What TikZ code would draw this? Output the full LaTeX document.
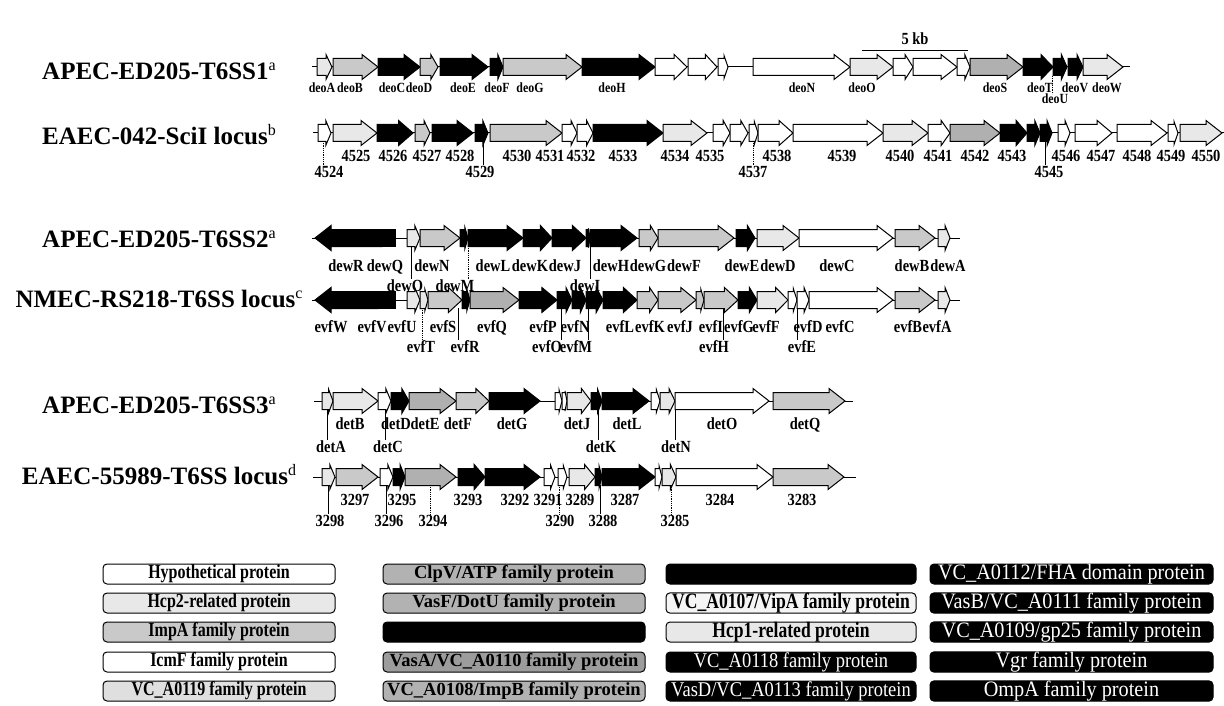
\documentclass[tikz,border=0pt]{standalone}
\usepackage{fontspec}
\setmainfont{Liberation Serif}
\newfontfamily\cfam{Liberation Serif}[FakeStretch=0.85]
\newfontfamily\lfam{Liberation Serif}[FakeStretch=0.8]
\newfontfamily\wfam{Liberation Serif}[FakeStretch=0.88]
\newfontfamily\vfam{Liberation Serif}[FakeStretch=0.92]
\newcommand\sups[1]{\raisebox{9pt}{\mdseries\fontsize{16}{16}\selectfont #1}}
\newcommand\gfw[4]{%
 \pgfmathsetmacro\ghl{min(16,0.4*(#2-#1))}%
 \pgfmathsetmacro\ghh{min(12.5,8.5+0.3*(#2-#1))}%
 \path[#4] (#1,#3-8.5) -- ({#2-\ghl},#3-8.5) -- ({#2-\ghl},#3-\ghh) -- (#2,#3) -- ({#2-\ghl},#3+\ghh) -- ({#2-\ghl},#3+8.5) -- (#1,#3+8.5) -- cycle;}
\newcommand\gbw[4]{%
 \pgfmathsetmacro\ghl{min(16,0.4*(#2-#1))}%
 \pgfmathsetmacro\ghh{min(12.5,8.5+0.3*(#2-#1))}%
 \path[#4] (#2,#3-8.5) -- ({#1+\ghl},#3-8.5) -- ({#1+\ghl},#3-\ghh) -- (#1,#3) -- ({#1+\ghl},#3+\ghh) -- ({#1+\ghl},#3+8.5) -- (#2,#3+8.5) -- cycle;}
\newcommand\gbox[4]{\path[#4] (#1,#3-8.5) rectangle (#2,#3+8.5);}
\newcommand\lab[4]{\node[#1] (t-#4) at (#2,#3) {#4};}
\tikzset{
 gW/.style={draw=black,line width=1pt,fill=white},
 gL/.style={draw=black,line width=1pt,fill=gray!18},
 gM/.style={draw=black,line width=1pt,fill=gray!42},
 gD/.style={draw=black,line width=1pt,fill=gray!62},
 gB/.style={draw=black,line width=1pt,fill=black},
 bb/.style={line width=1pt},
 ga/.style={inner sep=0pt,anchor=base,font=\cfam\bfseries\fontsize{14}{14}\selectfont},
 gc/.style={inner sep=0pt,anchor=base,font=\cfam\bfseries\fontsize{17}{17}\selectfont},
 tk/.style={line width=0.8pt},
 tkd/.style={line width=0.8pt,densely dotted},
 rowt/.style={inner sep=0pt,anchor=base,font=\bfseries\fontsize{25}{25}\selectfont},
 lgb/.style={draw=black,line width=1pt,rounded corners=4pt,minimum height=20pt,inner sep=0pt},
 lt1/.style={font=\lfam\bfseries\fontsize{20}{20}\selectfont},
 lt2/.style={font=\bfseries\fontsize{18.5}{18.5}\selectfont},
 lt3/.style={font=\lfam\bfseries\fontsize{22}{22}\selectfont},
 ltw/.style={font=\wfam\fontsize{21}{21}\selectfont,text=white},
 ltv/.style={font=\vfam\fontsize{22}{22}\selectfont,text=white},
}
\begin{document}
\begin{tikzpicture}[x=1pt,y=-1pt]
\useasboundingbox (0,0) rectangle (1224,706);
% row titles
\node[rowt] (r1) at (159,79.5) {APEC-ED205-T6SS1\sups{a}};
\node[rowt] (r2) at (159,144.5) {EAEC-042-SciI locus\sups{b}};
\node[rowt] (r3) at (159,247.5) {APEC-ED205-T6SS2\sups{a}};
\node[rowt] (r4) at (159,307.5) {NMEC-RS218-T6SS locus\sups{c}};
\node[rowt] (r5) at (159,413.5) {APEC-ED205-T6SS3\sups{a}};
\node[rowt] (r6) at (159,484.5) {EAEC-55989-T6SS locus\sups{d}};
% scale bar
\coordinate (sb1) at (862,51);
\coordinate (sb2) at (968,51);
\draw[line width=1pt] (sb1) -- (sb2);
\node[gc] (kb) at (915,45) {5 kb};
% ---------- row 1
\draw[bb] (312,67) -- (1130,67);
\gfw{317}{332}{67}{gL}
\gfw{333}{378}{67}{gM}
\gfw{378}{420}{67}{gB}
\gfw{420}{438}{67}{gM}
\gfw{440}{488}{67}{gB}
\gfw{490}{503}{67}{gB}
\gfw{503}{582}{67}{gM}
\gfw{582}{655}{67}{gB}
\gfw{655}{687}{67}{gW}
\gfw{688}{717}{67}{gW}
\gfw{718}{728}{67}{gW}
\gfw{753}{850}{67}{gW}
\gfw{850}{893}{67}{gL}
\gfw{893}{913}{67}{gW}
\gfw{913}{957}{67}{gW}
\gfw{957}{970}{67}{gW}
\gfw{970}{1023}{67}{gD}
\gfw{1023}{1053}{67}{gB}
\gfw{1053}{1067}{67}{gB}
\gfw{1068}{1083}{67}{gB}
\gfw{1083}{1123}{67}{gL}
\lab{ga}{322}{93}{deoA}
\lab{ga}{350}{93}{deoB}
\lab{ga}{392}{93}{deoC}
\lab{ga}{419}{93}{deoD}
\lab{ga}{463}{93}{deoE}
\lab{ga}{497}{93}{deoF}
\lab{ga}{530}{93}{deoG}
\lab{ga}{612}{93}{deoH}
\lab{ga}{802}{93}{deoN}
\lab{ga}{862}{93}{deoO}
\lab{ga}{995}{93}{deoS}
\lab{ga}{1040}{93}{deoT}
\lab{ga}{1075}{93}{deoV}
\lab{ga}{1107}{93}{deoW}
\lab{ga}{1055}{104}{deoU}
\draw[tkd] (1052,76) -- (1052,94);
% ---------- row 2
\draw[bb] (313,133) -- (1224,133);
\gfw{318}{331}{133}{gW}
\gfw{333}{377}{133}{gL}
\gfw{377}{413}{133}{gB}
\gfw{415}{430}{133}{gM}
\gfw{432}{473}{133}{gB}
\gfw{475}{488}{133}{gB}
\gfw{490}{562}{133}{gM}
\gfw{562}{577}{133}{gW}
\gfw{577}{593}{133}{gW}
\gfw{593}{663}{133}{gB}
\gfw{663}{707}{133}{gL}
\gfw{713}{730}{133}{gW}
\gfw{730}{748}{133}{gW}
\gfw{749}{758}{133}{gW}
\gfw{758}{793}{133}{gW}
\gfw{793}{883}{133}{gW}
\gfw{883}{928}{133}{gL}
\gfw{928}{950}{133}{gW}
\gfw{950}{1000}{133}{gD}
\gfw{1000}{1027}{133}{gB}
\gfw{1027}{1040}{133}{gB}
\gfw{1040}{1052}{133}{gB}
\gfw{1058}{1070}{133}{gW}
\gfw{1075}{1112}{133}{gW}
\gfw{1117}{1167}{133}{gW}
\gfw{1168}{1178}{133}{gW}
\gfw{1180}{1222}{133}{gL}
\lab{gc}{356}{162}{4525}
\lab{gc}{393}{162}{4526}
\lab{gc}{427}{162}{4527}
\lab{gc}{460}{162}{4528}
\lab{gc}{517}{162}{4530}
\lab{gc}{550}{162}{4531}
\lab{gc}{581}{162}{4532}
\lab{gc}{623}{162}{4533}
\lab{gc}{675}{162}{4534}
\lab{gc}{710}{162}{4535}
\lab{gc}{777}{162}{4538}
\lab{gc}{842}{162}{4539}
\lab{gc}{900}{162}{4540}
\lab{gc}{938}{162}{4541}
\lab{gc}{975}{162}{4542}
\lab{gc}{1012}{162}{4543}
\lab{gc}{1066}{162}{4546}
\lab{gc}{1101}{162}{4547}
\lab{gc}{1137}{162}{4548}
\lab{gc}{1171}{162}{4549}
\lab{gc}{1206}{162}{4550}
\lab{gc}{329}{178}{4524}
\lab{gc}{480}{178}{4529}
\lab{gc}{753}{178}{4537}
\lab{gc}{1049}{178}{4545}
\draw[tkd] (323,141) -- (323,165);
\draw[tk] (483,141) -- (483,165);
\draw[tkd] (753,141) -- (753,165);
\draw[tk] (1045,141) -- (1045,165);
% ---------- row 3
\draw[bb] (312,238) -- (960,238);
\gbw{315}{382}{238}{gB}
\gbox{382}{395}{238}{gB}
\gfw{407}{420}{238}{gL}
\gfw{420}{460}{238}{gM}
\gfw{460}{468}{238}{gB}
\gfw{468}{523}{238}{gB}
\gfw{523}{552}{238}{gB}
\gfw{552}{586}{238}{gB}
\gfw{586}{590}{238}{gB}
\gfw{590}{637}{238}{gB}
\gfw{639}{658}{238}{gM}
\gfw{658}{734}{238}{gM}
\gfw{736}{755}{238}{gB}
\gfw{757}{799}{238}{gL}
\gfw{799}{893}{238}{gW}
\gfw{895}{935}{238}{gM}
\gfw{938}{950}{238}{gL}
\lab{gc}{346}{271}{dewR}
\lab{gc}{385}{271}{dewQ}
\lab{gc}{432}{271}{dewN}
\lab{gc}{493}{271}{dewL}
\lab{gc}{530}{271}{dewK}
\lab{gc}{565}{271}{dewJ}
\lab{gc}{611}{271}{dewH}
\lab{gc}{648}{271}{dewG}
\lab{gc}{684}{271}{dewF}
\lab{gc}{742}{271}{dewE}
\lab{gc}{778}{271}{dewD}
\lab{gc}{837}{271}{dewC}
\lab{gc}{912}{271}{dewB}
\lab{gc}{948}{271}{dewA}
\lab{gc}{405}{291}{dewO}
\lab{gc}{455}{291}{dewM}
\lab{gc}{585}{291}{dewI}
\draw[tk] (411,246) -- (411,279);
\draw[tkd] (468,246) -- (468,279);
\draw[tk] (590,246) -- (590,279);
% ---------- row 4
\draw[bb] (312,300) -- (960,300);
\gbw{315}{378}{300}{gB}
\gbox{378}{395}{300}{gB}
\gfw{407}{420}{300}{gL}
\gfw{420}{428}{300}{gL}
\gfw{428}{462}{300}{gM}
\gfw{462}{470}{300}{gB}
\gfw{470}{519}{300}{gD}
\gfw{519}{557}{300}{gB}
\gfw{557}{572}{300}{gB}
\gfw{572}{586}{300}{gB}
\gfw{586}{603}{300}{gB}
\gfw{603}{637}{300}{gB}
\gfw{637}{658}{300}{gM}
\gfw{658}{696}{300}{gM}
\gfw{696}{704}{300}{gM}
\gfw{704}{738}{300}{gM}
\gfw{738}{757}{300}{gB}
\gfw{757}{788}{300}{gL}
\gfw{788}{797}{300}{gW}
\gfw{797}{809}{300}{gW}
\gfw{809}{893}{300}{gW}
\gfw{895}{935}{300}{gM}
\gfw{938}{950}{300}{gL}
\lab{gc}{331}{332}{evfW}
\lab{gc}{372}{332}{evfV}
\lab{gc}{402}{332}{evfU}
\lab{gc}{443}{332}{evfS}
\lab{gc}{492}{332}{evfQ}
\lab{gc}{543}{332}{evfP}
\lab{gc}{575}{332}{evfN}
\lab{gc}{620}{332}{evfL}
\lab{gc}{650}{332}{evfK}
\lab{gc}{680}{332}{evfJ}
\lab{gc}{711}{332}{evfI}
\lab{gc}{739}{332}{evfG}
\lab{gc}{766}{332}{evfF}
\lab{gc}{808}{332}{evfD}
\lab{gc}{840}{332}{evfC}
\lab{gc}{908}{332}{evfB}
\lab{gc}{937}{332}{evfA}
\lab{gc}{421}{352}{evfT}
\lab{gc}{465}{352}{evfR}
\lab{gc}{547}{352}{evfO}
\lab{gc}{576}{352}{evfM}
\lab{gc}{714}{352}{evfH}
\lab{gc}{802}{352}{evfE}
\draw[tkd] (422,308) -- (422,340);
\draw[tk] (458,308) -- (458,340);
\draw[tk] (561,308) -- (561,340);
\draw[tk] (588,308) -- (588,340);
\draw[tk] (723,308) -- (723,340);
\draw[tk] (797,308) -- (797,340);
% ---------- row 5
\draw[bb] (314,401) -- (853,401);
\gfw{322}{333}{401}{gL}
\gfw{333}{378}{401}{gL}
\gfw{378}{391}{401}{gW}
\gfw{391}{409}{401}{gB}
\gfw{409}{456}{401}{gD}
\gfw{456}{489}{401}{gM}
\gfw{489}{540}{401}{gB}
\gfw{555}{562}{401}{gW}
\gfw{562}{567}{401}{gW}
\gfw{567}{591}{401}{gL}
\gfw{591}{602}{401}{gB}
\gfw{602}{649}{401}{gB}
\gfw{651}{660}{401}{gW}
\gfw{660}{675}{401}{gL}
\gfw{675}{769}{401}{gW}
\gfw{773}{845}{401}{gM}
\lab{gc}{350}{429}{detB}
\lab{gc}{396}{429}{detD}
\lab{gc}{425}{429}{detE}
\lab{gc}{458}{429}{detF}
\lab{gc}{512}{429}{detG}
\lab{gc}{577}{429}{detJ}
\lab{gc}{627}{429}{detL}
\lab{gc}{722}{429}{detO}
\lab{gc}{805}{429}{detQ}
\lab{gc}{331}{452}{detA}
\lab{gc}{388}{452}{detC}
\lab{gc}{601}{452}{detK}
\lab{gc}{676}{452}{detN}
\draw[tk] (327,409) -- (327,440);
\draw[tk] (385,409) -- (385,440);
\draw[tk] (598,409) -- (598,440);
\draw[tk] (675,409) -- (675,440);
% ---------- row 6
\draw[bb] (313,477) -- (856,477);
\gfw{322}{335}{477}{gL}
\gfw{336}{378}{477}{gM}
\gfw{380}{393}{477}{gW}
\gfw{393}{405}{477}{gB}
\gfw{405}{456}{477}{gD}
\gfw{458}{485}{477}{gB}
\gfw{485}{540}{477}{gB}
\gfw{544}{555}{477}{gW}
\gfw{558}{567}{477}{gW}
\gfw{569}{595}{477}{gL}
\gfw{595}{602}{477}{gB}
\gfw{602}{655}{477}{gB}
\gfw{655}{662}{477}{gW}
\gfw{662}{676}{477}{gL}
\gfw{676}{773}{477}{gW}
\gfw{773}{844}{477}{gM}
\lab{gc}{355}{505}{3297}
\lab{gc}{402}{505}{3295}
\lab{gc}{468}{505}{3293}
\lab{gc}{515}{505}{3292}
\lab{gc}{548}{505}{3291}
\lab{gc}{580}{505}{3289}
\lab{gc}{625}{505}{3287}
\lab{gc}{720}{505}{3284}
\lab{gc}{802}{505}{3283}
\lab{gc}{330}{526}{3298}
\lab{gc}{389}{526}{3296}
\lab{gc}{433}{526}{3294}
\lab{gc}{560}{526}{3290}
\lab{gc}{603}{526}{3288}
\lab{gc}{675}{526}{3285}
\draw[tk] (328,485) -- (328,514);
\draw[tk] (386,485) -- (386,514);
\draw[tkd] (430,485) -- (430,514);
\draw[tkd] (559,485) -- (559,514);
\draw[tk] (600,485) -- (600,514);
\draw[tkd] (671,485) -- (671,514);
% ---------- legend
\node[lgb,lt1,fill=white,minimum width=232pt] (k11) at (219,574) {Hypothetical protein};
\node[lgb,lt1,fill=gray!18,minimum width=232pt] (k12) at (219,603) {Hcp2-related protein};
\node[lgb,lt1,fill=gray!42,minimum width=232pt] (k13) at (219,632) {ImpA family protein};
\node[lgb,lt1,fill=white,minimum width=232pt] (k14) at (219,662) {IcmF family protein};
\node[lgb,lt1,fill=gray!25,minimum width=232pt] (k15) at (219,691) {VC\_A0119 family protein};
\node[lgb,lt2,fill=gray!60,minimum width=262pt] (k21) at (514,574) {ClpV/ATP family protein};
\node[lgb,lt2,fill=gray!60,minimum width=262pt] (k22) at (514,603) {VasF/DotU family protein};
\node[lgb,fill=black,minimum width=262pt] (k23) at (514,632) {};
\node[lgb,lt2,fill=gray!78,minimum width=262pt] (k24) at (514,662) {VasA/VC\_A0110 family protein};
\node[lgb,lt2,fill=gray!60,minimum width=262pt] (k25) at (514,691) {VC\_A0108/ImpB family protein};
\node[lgb,fill=black,minimum width=250pt] (k31) at (791,574) {};
\node[lgb,lt3,fill=gray!8,minimum width=250pt] (k32) at (791,603) {VC\_A0107/VipA family protein};
\node[lgb,lt3,fill=gray!18,minimum width=250pt] (k33) at (791,632) {Hcp1-related protein};
\node[lgb,ltw,fill=black,minimum width=250pt] (k34) at (791,662) {VC\_A0118 family protein};
\node[lgb,ltw,fill=black,minimum width=250pt] (k35) at (791,691) {VasD/VC\_A0113 family protein};
\node[lgb,ltv,fill=black,minimum width=283pt] (k41) at (1071.5,574) {VC\_A0112/FHA domain protein};
\node[lgb,ltv,fill=black,minimum width=283pt] (k42) at (1071.5,603) {VasB/VC\_A0111 family protein};
\node[lgb,ltv,fill=black,minimum width=283pt] (k43) at (1071.5,632) {VC\_A0109/gp25 family protein};
\node[lgb,ltv,fill=black,minimum width=283pt] (k44) at (1071.5,662) {Vgr family protein};
\node[lgb,ltv,fill=black,minimum width=283pt] (k45) at (1071.5,691) {OmpA family protein};
\end{tikzpicture}
\end{document}
